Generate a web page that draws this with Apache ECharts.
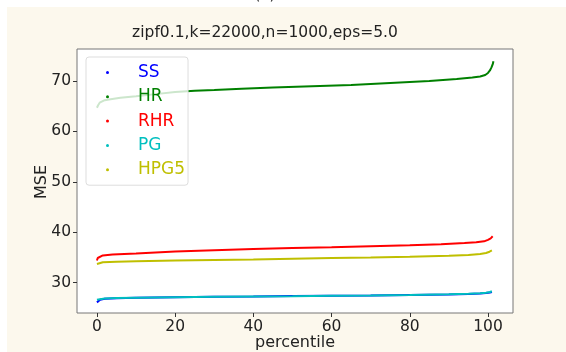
<!DOCTYPE html>
<html>
<head>
<meta charset="utf-8">
<script src="https://cdn.jsdelivr.net/npm/echarts@6/dist/echarts.min.js"></script>
<style>
html,body{margin:0;padding:0;background:#fff;width:566px;height:352px;overflow:hidden;}
#bg{position:absolute;left:7px;top:7px;right:0;bottom:0;background:#fcf8ed;}
#chart{position:absolute;left:0;top:0;width:566px;height:352px;}
</style>
</head>
<body>
<div id="bg"></div>
<div id="chart"></div>
<script>
const titleText = 'zipf0.1,k=22000,n=1000,eps=5.0';
const seriesNames = ['SS', 'HR', 'RHR', 'PG', 'HPG5'];
const xTicks = [0, 20, 40, 60, 80, 100];
const yTicks = [30, 40, 50, 60, 70];

const ssData = [[0,26.1],[0.3,26.4],[0.8,26.6],[2,26.8],[5,26.9],[10,27.0],[20,27.1],[30,27.2],[40,27.25],[50,27.35],[60,27.4],[70,27.45],[80,27.55],[90,27.65],[95,27.75],[98,27.85],[99.5,27.95],[100.5,28.05],[101,28.15]];
const hrData = [[0,64.7],[0.3,65.2],[0.7,65.7],[1.2,65.9],[2,66.2],[3.5,66.4],[6,66.7],[10,67.0],[15,67.4],[20,67.8],[25,68.05],[30,68.2],[37,68.45],[45,68.7],[55,68.95],[65,69.2],[75,69.6],[85,70.0],[92,70.4],[96,70.7],[98,70.9],[99.3,71.2],[100,71.6],[100.5,72.1],[100.9,72.7],[101.2,73.3],[101.4,73.9]];
const rhrData = [[0,34.4],[0.2,34.9],[0.6,35.2],[1.5,35.4],[4,35.6],[10,35.8],[20,36.2],[30,36.45],[40,36.7],[50,36.9],[60,37.05],[70,37.25],[80,37.45],[88,37.65],[94,37.85],[97,38.0],[99,38.2],[100,38.5],[100.7,38.8],[101.2,39.2]];
const pgData = [[0,26.6],[0.5,26.75],[2,26.85],[5,26.95],[10,27.0],[20,27.1],[30,27.2],[40,27.25],[50,27.3],[60,27.4],[70,27.45],[80,27.55],[90,27.7],[95,27.8],[98,27.9],[99.5,28.0],[100.5,28.15],[101,28.3]];
const hpg5Data = [[0,33.7],[0.4,33.95],[1.5,34.05],[5,34.15],[10,34.25],[20,34.4],[30,34.5],[40,34.6],[50,34.75],[60,34.9],[70,35.0],[80,35.15],[90,35.35],[95,35.5],[98,35.7],[99.5,35.9],[100.4,36.15],[101,36.4]];

const allData = [ssData, hrData, rhrData, pgData, hpg5Data];
const colors = ['#0000ff', '#008000', '#ff0000', '#00bfbf', '#bfbf00'];
const FONT = 'DejaVu Sans';

const chart = echarts.init(document.getElementById('chart'), null, {renderer: 'canvas'});
chart.setOption({
  backgroundColor: 'transparent',
  animation: false,
  grid: {left: 77, top: 49, right: 53, bottom: 39, show: true, backgroundColor: '#fff', borderColor: '#777', borderWidth: 1},
  xAxis: {
    type: 'value', min: -5.1, max: 106.4,
    axisLine: {show: false, onZero: false},
    splitLine: {show: false},
    axisTick: {show: true, customValues: xTicks, length: 4, lineStyle: {color: '#333'}},
    axisLabel: {customValues: xTicks, fontSize: 15.5, color: '#222', fontFamily: FONT, margin: 6}
  },
  yAxis: {
    type: 'value', min: 23.99, max: 76.35,
    axisLine: {show: false, onZero: false},
    splitLine: {show: false},
    axisTick: {show: true, customValues: yTicks, length: 4, lineStyle: {color: '#333'}},
    axisLabel: {customValues: yTicks, fontSize: 15.5, color: '#222', fontFamily: FONT, margin: 6}
  },
  legend: {
    left: 86, top: 57, orient: 'vertical',
    padding: [7, 3, 7, 20],
    itemGap: 7.3, itemWidth: 3, itemHeight: 3, icon: 'circle',
    backgroundColor: 'rgba(255,255,255,0.8)', borderColor: '#ddd', borderWidth: 1, borderRadius: 3,
    textStyle: {fontSize: 17, fontFamily: FONT, padding: [0, 0, 0, 24], lineHeight: 17},
    data: seriesNames.map((n, i) => ({name: n, textStyle: {color: colors[i]}}))
  },
  graphic: [
    {type: 'text', x: 265, y: 32.5, style: {text: titleText, fontSize: 15.5, fontFamily: FONT, fill: '#222', textAlign: 'center', textVerticalAlign: 'middle'}},
    {type: 'text', x: 295, y: 343, style: {text: 'percentile', fontSize: 16, fontFamily: FONT, fill: '#222', textAlign: 'center', textVerticalAlign: 'middle'}},
    {type: 'text', x: 42, y: 182, rotation: Math.PI / 2, style: {text: 'MSE', fontSize: 16, fontFamily: FONT, fill: '#222', textAlign: 'center', textVerticalAlign: 'middle'}},
    {type: 'text', x: 265, y: -5, style: {text: '(a)', fontSize: 15, fontFamily: FONT, fill: '#222', textAlign: 'center', textVerticalAlign: 'middle'}}
  ],
  series: seriesNames.map((n, i) => ({
    name: n, type: 'line', data: allData[i], showSymbol: false, symbol: 'circle', symbolSize: 3,
    color: colors[i], lineStyle: {width: 2, color: colors[i]}, z: 2 + i
  }))
});
</script>
</body>
</html>
